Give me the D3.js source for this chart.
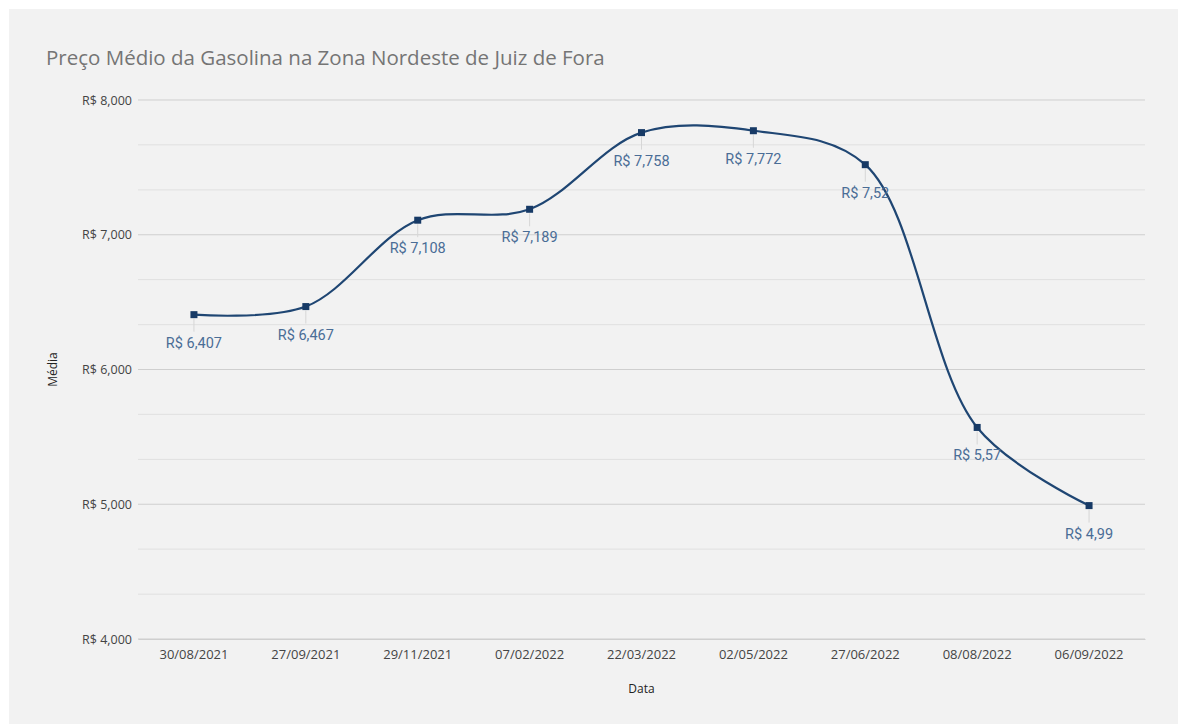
<!DOCTYPE html>
<html>
<head>
<meta charset="utf-8">
<script src="https://cdn.jsdelivr.net/npm/d3@7"></script>
<style>
    body { margin: 0; background: #ffffff; }
    #chart { position: absolute; left: 0; top: 0; }
</style>
</head>
<body>
<div id="chart"></div>
<script>
// données
const datas = ["30/08/2021", "27/09/2021", "29/11/2021", "07/02/2022", "22/03/2022", "02/05/2022", "27/06/2022", "08/08/2022", "06/09/2022"];
const medias = [6.407, 6.467, 7.108, 7.189, 7.758, 7.772, 7.52, 5.57, 4.99];
const rotulos = ["R$ 6,407", "R$ 6,467", "R$ 7,108", "R$ 7,189", "R$ 7,758", "R$ 7,772", "R$ 7,52", "R$ 5,57", "R$ 4,99"];
const ticksY = [4, 5, 6, 7, 8];
const ticksMenores = [4, 4.333, 4.667, 5, 5.333, 5.667, 6, 6.333, 6.667, 7, 7.333, 7.667, 8];

const width = 1178;
const height = 724;
const margin = { top: 100, right: 33, bottom: 85, left: 138 };

const svg = d3.select("#chart")
    .append("svg")
    .attr("width", width)
    .attr("height", height);

// fond gris
svg.append("rect")
    .attr("x", 9)
    .attr("y", 9)
    .attr("width", width - 9)
    .attr("height", height - 9)
    .attr("fill", "#f2f2f2");

const x = d3.scaleBand()
    .domain(datas)
    .range([margin.left, width - margin.right]);

const y = d3.scaleLinear()
    .domain([4, 8])
    .range([height - margin.bottom, margin.top]);

// grille
svg.append("g")
    .selectAll("line")
    .data(ticksMenores)
    .join("line")
    .attr("x1", margin.left)
    .attr("x2", width - margin.right)
    .attr("y1", d => y(d))
    .attr("y2", d => y(d))
    .attr("stroke", d => ticksY.some(t => Math.abs(t - d) < 0.01) ? "#cfcfcf" : "#e0e0e0")
    .attr("stroke-width", 1);

// axe Y
const axeY = svg.append("g")
    .attr("transform", `translate(${margin.left},0)`)
    .call(d3.axisLeft(y).tickValues(ticksY).tickSize(0).tickPadding(6)
        .tickFormat(d => "R$ " + d3.format(".3f")(d).replace(".", ",")));
axeY.select(".domain").remove();
axeY.selectAll("text")
    .attr("fill", "#444")
    .style("font-family", "Open Sans, sans-serif")
    .style("font-size", "12.5px");

// axe X
const axeX = svg.append("g")
    .attr("transform", `translate(0,${height - margin.bottom})`)
    .call(d3.axisBottom(x).tickSize(0).tickPadding(11));
axeX.select(".domain").attr("stroke", "#cfcfcf");
axeX.selectAll("text")
    .attr("fill", "#444")
    .style("font-family", "Open Sans, sans-serif")
    .style("font-size", "13px");

// courbe
const cx = d => x(d) + x.bandwidth() / 2;
const pontos = datas.map((d, i) => [cx(d), y(medias[i])]);

svg.append("path")
    .datum(pontos)
    .attr("fill", "none")
    .attr("stroke", "#1f4673")
    .attr("stroke-width", 2.2)
    .attr("d", d3.line().curve(d3.curveCatmullRom.alpha(0.5)));

// traits de rappel
svg.append("g")
    .selectAll("line")
    .data(datas)
    .join("line")
    .attr("x1", d => cx(d))
    .attr("x2", d => cx(d))
    .attr("y1", (d, i) => y(medias[i]) + 4)
    .attr("y2", (d, i) => y(medias[i]) + 17)
    .attr("stroke", "#d6d6d6")
    .attr("stroke-width", 1);

// marqueurs
svg.append("g")
    .selectAll("rect")
    .data(datas)
    .join("rect")
    .attr("x", d => cx(d) - 3.5)
    .attr("y", (d, i) => y(medias[i]) - 3.5)
    .attr("width", 7)
    .attr("height", 7)
    .attr("fill", "#173a66");

// étiquettes
svg.append("g")
    .selectAll("text")
    .data(datas)
    .join("text")
    .attr("x", d => cx(d))
    .attr("y", (d, i) => y(medias[i]) + 33)
    .attr("text-anchor", "middle")
    .attr("fill", "#4a6d96")
    .style("font-family", "Roboto, sans-serif")
    .style("font-size", "14.5px")
    .text((d, i) => rotulos[i]);

// titre
svg.append("text")
    .attr("x", 46)
    .attr("y", 65)
    .attr("fill", "#757575")
    .style("font-family", "Open Sans, sans-serif")
    .style("font-size", "20.5px")
    .text("Preço Médio da Gasolina na Zona Nordeste de Juiz de Fora");

// titres des axes
svg.append("text")
    .attr("transform", `translate(57,${(margin.top + height - margin.bottom) / 2}) rotate(-90)`)
    .attr("text-anchor", "middle")
    .attr("fill", "#222")
    .style("font-family", "Open Sans, sans-serif")
    .style("font-size", "12px")
    .text("Média");

svg.append("text")
    .attr("x", (margin.left + width - margin.right) / 2)
    .attr("y", 693)
    .attr("text-anchor", "middle")
    .attr("fill", "#222")
    .style("font-family", "Open Sans, sans-serif")
    .style("font-size", "12px")
    .text("Data");
</script>
</body>
</html>
